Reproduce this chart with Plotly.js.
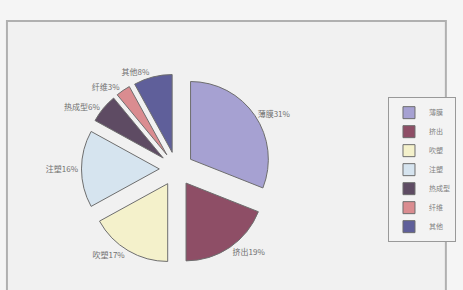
<!DOCTYPE html>
<html><head><meta charset="utf-8">
<script src="https://cdn.plot.ly/plotly-3.0.1.min.js"></script>
<style>html,body{margin:0;padding:0;background:#f4f4f4}#c{width:463px;height:290px}</style>
</head><body><div id="c"></div>
<script>
const categories = ['薄膜','挤出','吹塑','注塑','热成型','纤维','其他'];
const shares = [31, 19, 17, 16, 6, 3, 8];
const colors = ['#a6a1d2','#8e4e66','#f4f1cb','#d6e4ef','#5e4b63','#da8c90','#5f5f9a'];

const trace = {
  type: 'pie',
  labels: categories,
  values: shares,
  sort: false,
  direction: 'clockwise',
  rotation: 0,
  pull: 0.22,
  marker: {colors: colors, line: {color: '#6e6e6e', width: 1}},
  textposition: 'outside',
  texttemplate: '%{label}%{value}%',
  textfont: {family: 'Noto Sans CJK SC', size: 8, color: '#707070'},
  domain: {x: [0.176, 0.586], y: [0.09, 0.745]},
  hoverinfo: 'none'
};

const layout = {
  width: 463, height: 290,
  margin: {l: 0, r: 0, t: 0, b: 0},
  paper_bgcolor: '#f5f5f5',
  showlegend: true,
  legend: {
    x: 0.838, y: 0.665, xanchor: 'left', yanchor: 'top',
    bgcolor: '#f3f3f3', bordercolor: '#999', borderwidth: 1,
    font: {family: 'Noto Sans CJK SC', size: 7, color: '#808080'},
    itemwidth: 30
  },
  shapes: [{
    type: 'rect', xref: 'paper', yref: 'paper', layer: 'below',
    x0: 0.015, x1: 0.963, y0: -0.02, y1: 0.928,
    line: {color: '#b0b0b0', width: 2}, fillcolor: '#f1f1f1'
  }]
};

Plotly.newPlot('c', [trace], layout, {staticPlot: true, displayModeBar: false});
</script></body></html>
